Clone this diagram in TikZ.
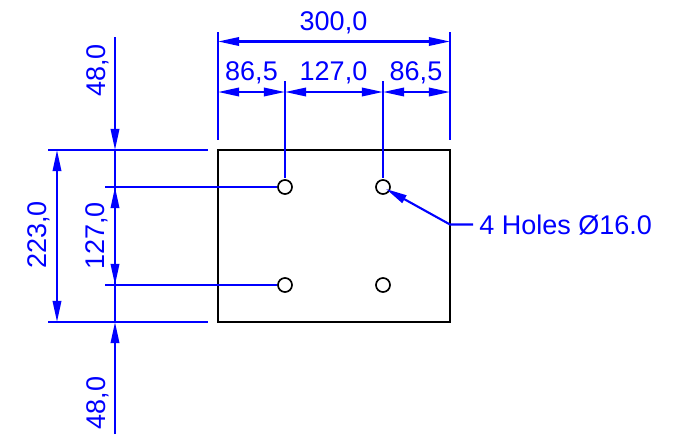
\documentclass[tikz,border=0pt]{standalone}
\usepackage{fontspec}
\setmainfont{Liberation Sans}
\usetikzlibrary{arrows.meta}

\begin{document}
\begin{tikzpicture}[x=0.025cm,y=-0.025cm,>={Triangle[length=15pt,width=6pt]},
  dim line/.style={blue,line width=1.5pt},
  dim label/.style={blue,inner sep=0pt,font=\fontsize{19.2}{21}\selectfont},
  hole/.style={circle,draw=black,fill=white,line width=1.2pt,minimum size=10pt,inner sep=0pt}]
  \useasboundingbox (0,0) rectangle (680,435);

  % plate and holes
  \node[draw=black,line width=1.2pt,minimum width=165pt,minimum height=122.3pt,inner sep=0pt] (plate) at (334,236) {};
  \node[hole] (h1) at (285,187) {};
  \node[hole] (h2) at (383,187) {};
  \node[hole] (h3) at (285,285) {};
  \node[hole] (h4) at (383,285) {};

  % end points
  \coordinate (a1) at (218,32);
  \coordinate (a2) at (218,140);
  \coordinate (b1) at (450,32);
  \coordinate (b2) at (450,140);
  \coordinate (c1) at (285,81);
  \coordinate (c2) at (285,178);
  \coordinate (d1) at (383,81);
  \coordinate (d2) at (383,178);
  \coordinate (e1) at (48,150);
  \coordinate (e2) at (208,150);
  \coordinate (f1) at (48,322);
  \coordinate (f2) at (208,322);
  \coordinate (g1) at (105,187);
  \coordinate (g2) at (277,187);
  \coordinate (k1) at (105,285);
  \coordinate (k2) at (277,285);
  \coordinate (m1) at (115,37);
  \coordinate (m2) at (115,150);
  \coordinate (n1) at (115,434);
  \coordinate (n2) at (115,322);
  \coordinate (p1) at (115,187);
  \coordinate (p2) at (115,285);
  \coordinate (q1) at (57,150);
  \coordinate (q2) at (57,322);
  \coordinate (r1) at (218,41.5);
  \coordinate (r2) at (450,41.5);
  \coordinate (s1) at (218,92);
  \coordinate (s2) at (285,92);
  \coordinate (s3) at (383,92);
  \coordinate (s4) at (450,92);
  \coordinate (t1) at (450,224.5);
  \coordinate (t2) at (473,224.5);
  \coordinate (t3) at (386,189);

  % labels
  \node[dim label] (w1) at (333.5,22.5) {300,0};
  \node[dim label] (w2) at (251.5,73) {86,5};
  \node[dim label] (w3) at (333.5,73) {127,0};
  \node[dim label] (w4) at (416,73) {86,5};
  \node[dim label,rotate=90] (v1) at (97.5,70.5) {48,0};
  \node[dim label,rotate=90] (v2) at (39,235) {223,0};
  \node[dim label,rotate=90] (v3) at (97,236) {127,0};
  \node[dim label,rotate=90] (v4) at (97.5,403) {48,0};
  \node[dim label,anchor=west] (note) at (479,225.5) {4 Holes Ø16.0};

  \draw[dim line] (a1) -- (a2);
  \draw[dim line] (b1) -- (b2);
  \draw[dim line] (c1) -- (c2);
  \draw[dim line] (d1) -- (d2);
  \draw[dim line] (e1) -- (e2);
  \draw[dim line] (f1) -- (f2);
  \draw[dim line] (g1) -- (g2);
  \draw[dim line] (k1) -- (k2);
  \draw[dim line] (m2) -- (n2);
  \draw[dim line,->] (m1) -- (m2);
  \draw[dim line,->] (n1) -- (n2);
  \draw[dim line,<->] (p1) -- (p2);
  \draw[dim line,<->] (q1) -- (q2);
  \draw[dim line,<->] (r1) -- (r2);
  \draw[dim line,<->] (s1) -- (s2);
  \draw[dim line,<->] (s2) -- (s3);
  \draw[dim line,<->] (s3) -- (s4);
  \draw[dim line,->] (t2) -- (t1) -- (t3);
\end{tikzpicture}
\end{document}
